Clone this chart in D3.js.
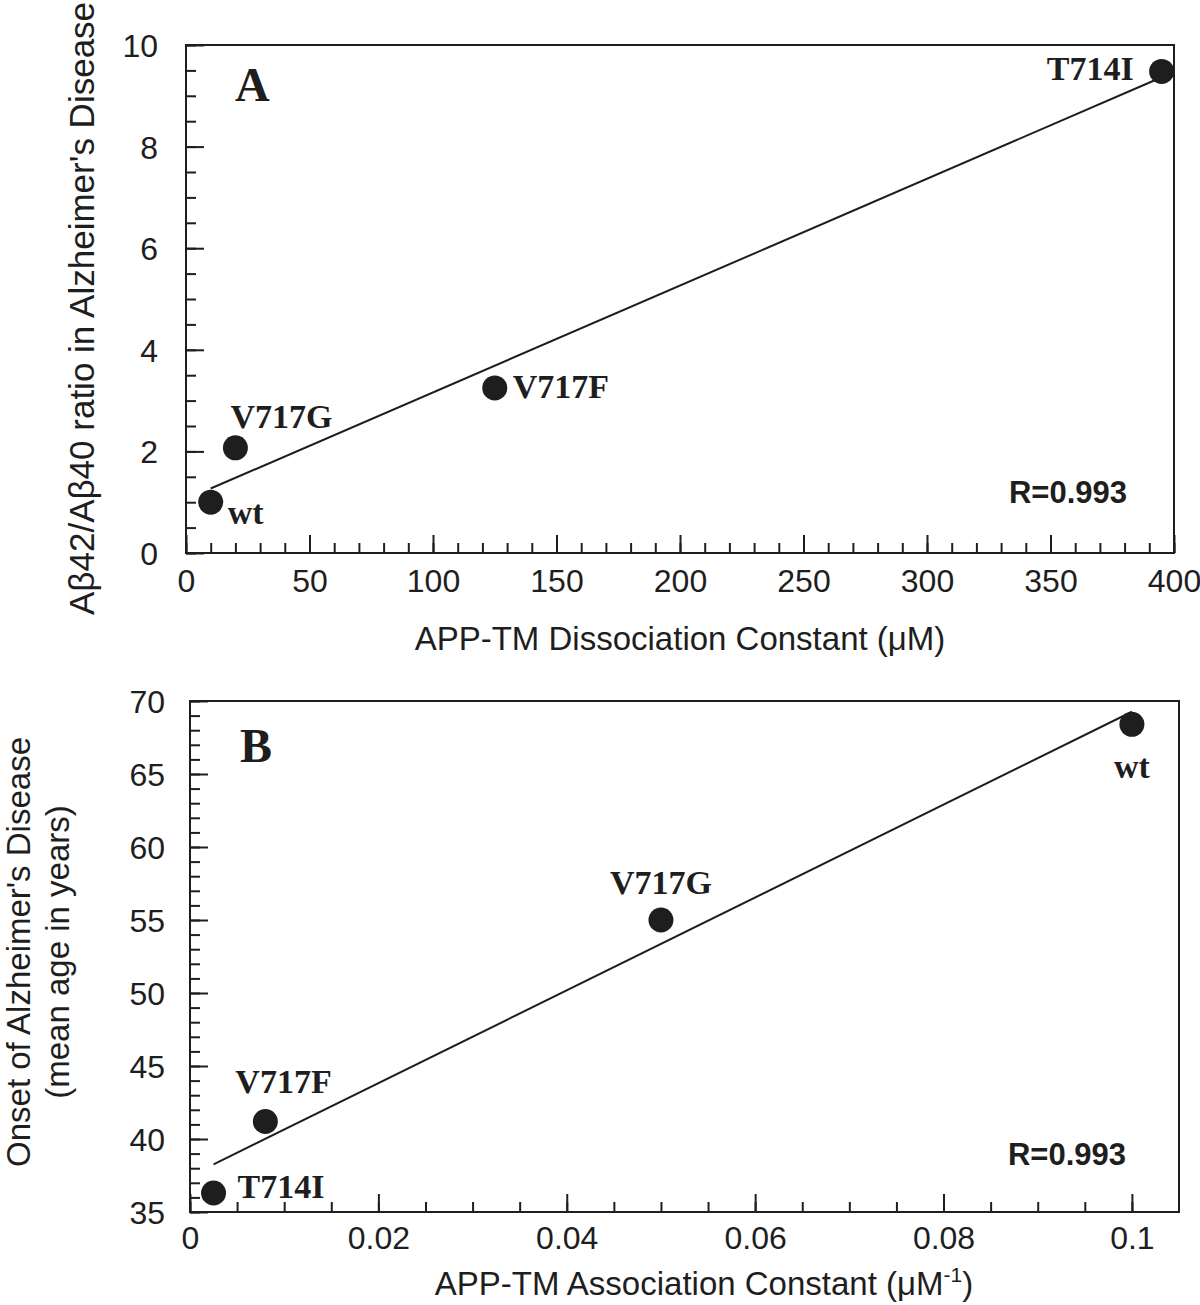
<!DOCTYPE html>
<html>
<head>
<meta charset="utf-8">
<script src="https://cdn.jsdelivr.net/npm/d3@7"></script>
<style>
  html, body { margin: 0; padding: 0; background: #fff; }
  svg { display: block; }
</style>
</head>
<body>
<svg id="chart" width="1200" height="1305"></svg>
<script>
// ---------- DATA ----------
const mutants = ["wt", "V717G", "V717F", "T714I"];
// Panel A
const dissociationKd = [10, 20, 125, 395];          // µM
const abRatio = [1.0, 2.07, 3.25, 9.48];
const rA = "R=0.993";
// Panel B
const associationKa = [0.1, 0.05, 0.008, 0.0025];   // µM^-1
const onsetAge = [68.4, 55.0, 41.2, 36.3];
const rB = "R=0.993";
// Ticks
const xTicksA = [0, 50, 100, 150, 200, 250, 300, 350, 400];
const yTicksA = [0, 2, 4, 6, 8, 10];
const xTicksB = [0, 0.02, 0.04, 0.06, 0.08, 0.1];
const yTicksB = [35, 40, 45, 50, 55, 60, 65, 70];

// ---------- STYLE ----------
const ink = "#1e1e1e";
const sans = "'Liberation Sans', Arial, Helvetica, sans-serif";
const serif = "'Liberation Serif', 'Times New Roman', serif";

const svg = d3.select("#chart");

function linreg(xs, ys) {
  const n = xs.length;
  const mx = d3.mean(xs), my = d3.mean(ys);
  let sxx = 0, sxy = 0;
  for (let i = 0; i < n; i++) { sxx += (xs[i] - mx) ** 2; sxy += (xs[i] - mx) * (ys[i] - my); }
  const b = sxy / sxx;
  return { b, a: my - b * mx };
}

function panel(cfg) {
  const g = svg.append("g");
  const x = d3.scaleLinear().domain(cfg.xDomain).range([cfg.left, cfg.right]);
  const y = d3.scaleLinear().domain(cfg.yDomain).range([cfg.bottom, cfg.top]);

  // minor ticks
  g.append("g").attr("transform", `translate(0,${cfg.bottom})`)
    .call(d3.axisBottom(x).tickValues(cfg.xMinor).tickSize(-10).tickFormat(""))
    .call(s => s.select(".domain").remove())
    .call(s => s.selectAll("line").attr("stroke", ink).attr("stroke-width", 2));
  g.append("g").attr("transform", `translate(${cfg.left},0)`)
    .call(d3.axisLeft(y).tickValues(cfg.yMinor).tickSize(-10).tickFormat(""))
    .call(s => s.select(".domain").remove())
    .call(s => s.selectAll("line").attr("stroke", ink).attr("stroke-width", 2));

  // major ticks
  g.append("g").attr("transform", `translate(0,${cfg.bottom})`)
    .call(d3.axisBottom(x).tickValues(cfg.xTicks).tickSize(-18).tickPadding(0).tickFormat(cfg.xFmt))
    .call(s => s.select(".domain").remove())
    .call(s => s.selectAll("line").attr("stroke", ink).attr("stroke-width", 2))
    .call(s => s.selectAll("text").attr("fill", ink).attr("font-family", sans)
      .attr("font-size", 32).attr("dy", null).attr("y", cfg.xLabelY));
  g.append("g").attr("transform", `translate(${cfg.left},0)`)
    .call(d3.axisLeft(y).tickValues(cfg.yTicks).tickSize(-18).tickPadding(0).tickFormat(d3.format("d")))
    .call(s => s.select(".domain").remove())
    .call(s => s.selectAll("line").attr("stroke", ink).attr("stroke-width", 2))
    .call(s => s.selectAll("text").attr("fill", ink).attr("font-family", sans)
      .attr("font-size", 32).attr("x", -cfg.yLabelGap).attr("dy", "0.36em"));

  // frame
  g.append("rect")
    .attr("x", cfg.left).attr("y", cfg.top)
    .attr("width", cfg.right - cfg.left).attr("height", cfg.bottom - cfg.top)
    .attr("fill", "none").attr("stroke", ink).attr("stroke-width", 2);

  // regression line
  const fit = linreg(cfg.xs, cfg.ys);
  const x0 = d3.min(cfg.xs), x1 = d3.max(cfg.xs);
  g.append("line")
    .attr("x1", x(x0)).attr("y1", y(fit.a + fit.b * x0))
    .attr("x2", x(x1)).attr("y2", y(fit.a + fit.b * x1))
    .attr("stroke", ink).attr("stroke-width", 2);

  // points
  g.selectAll("circle.pt").data(cfg.xs.map((v, i) => ({ x: v, y: cfg.ys[i], name: mutants[i] })))
    .join("circle").attr("class", "pt")
    .attr("cx", d => x(d.x)).attr("cy", d => y(d.y)).attr("r", 12.5).attr("fill", ink);

  // point labels
  g.selectAll("text.lbl").data(cfg.xs.map((v, i) => ({ x: v, y: cfg.ys[i], name: mutants[i], o: cfg.offsets[mutants[i]] })))
    .join("text").attr("class", "lbl")
    .attr("x", d => x(d.x) + d.o[0]).attr("y", d => y(d.y) + d.o[1])
    .attr("text-anchor", d => d.o[2])
    .attr("font-family", serif).attr("font-weight", "bold").attr("font-size", 34).attr("fill", ink)
    .text(d => d.name);

  // panel letter
  g.append("text").attr("x", cfg.letterPos[0]).attr("y", cfg.letterPos[1])
    .attr("font-family", serif).attr("font-weight", "bold").attr("font-size", 48).attr("fill", ink)
    .text(cfg.letter);

  // R value
  g.append("text").attr("x", cfg.rPos[0]).attr("y", cfg.rPos[1]).attr("text-anchor", "end")
    .attr("font-family", sans).attr("font-weight", "bold").attr("font-size", 31).attr("fill", ink)
    .text(cfg.rText);

  return { g, x, y };
}

// ---------- PANEL A ----------
const A = panel({
  left: 186, right: 1174, top: 45, bottom: 553,
  xDomain: [0, 400], yDomain: [0, 10],
  xTicks: xTicksA, yTicks: yTicksA,
  xMinor: d3.range(0, 401, 10), yMinor: d3.range(0, 10.01, 0.5),
  xFmt: d3.format("d"), xLabelY: 39, yLabelGap: 28,
  xs: dissociationKd, ys: abRatio,
  offsets: { "wt": [17, 22, "start"], "V717G": [-5, -20, "start"], "V717F": [18, 10, "start"], "T714I": [-28, 9, "end"] },
  letter: "A", letterPos: [235, 101],
  rText: rA, rPos: [1127, 503]
});
svg.append("text").attr("transform", "translate(680,650)").attr("text-anchor", "middle")
  .attr("font-family", sans).attr("font-size", 33).attr("fill", ink)
  .text("APP-TM Dissociation Constant (\u03BCM)");
svg.append("text").attr("transform", "translate(94,615) rotate(-90)").attr("text-anchor", "start")
  .attr("font-family", sans).attr("font-size", 35).attr("fill", ink)
  .text("A\u03B242/A\u03B240 ratio in Alzheimer's Disease");

// ---------- PANEL B ----------
const B = panel({
  left: 190, right: 1179, top: 701, bottom: 1212,
  xDomain: [0, 0.105], yDomain: [35, 70],
  xTicks: xTicksB, yTicks: yTicksB,
  xMinor: d3.range(0, 21).map(i => i * 0.005), yMinor: d3.range(35, 71, 1),
  xFmt: d => d === 0 ? "0" : d3.format("~g")(d), xLabelY: 37, yLabelGap: 25,
  xs: associationKa, ys: onsetAge,
  offsets: { "wt": [0, 54, "middle"], "V717G": [0, -26, "middle"], "V717F": [-30, -28, "start"], "T714I": [24, 5, "start"] },
  letter: "B", letterPos: [240, 762],
  rText: rB, rPos: [1126, 1165]
});
const tB = svg.append("text").attr("transform", "translate(704,1295)").attr("text-anchor", "middle")
  .attr("font-family", sans).attr("font-size", 33).attr("fill", ink);
tB.append("tspan").text("APP-TM Association Constant (\u03BCM");
tB.append("tspan").attr("font-size", 21).attr("dy", -13).text("-1");
tB.append("tspan").attr("dy", 13).text(")");

const yB = svg.append("text").attr("transform", "translate(0,952) rotate(-90)").attr("text-anchor", "middle")
  .attr("font-family", sans).attr("font-size", 33).attr("fill", ink);
yB.append("tspan").attr("x", 0).attr("y", 30).text("Onset of Alzheimer's Disease");
yB.append("tspan").attr("x", 0).attr("y", 69).text("(mean age in years)");
</script>
</body>
</html>
